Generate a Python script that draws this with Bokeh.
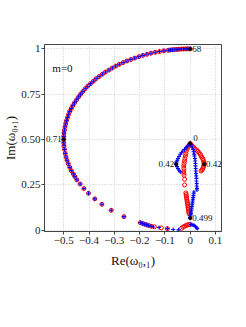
from bokeh.plotting import figure
from bokeh.models import Range1d, FixedTicker, Label
from bokeh.embed import file_html
from bokeh.resources import INLINE

# ---------------- data ----------------
# outer semicircle branch (shared by both series)
arc_x = [0.000, -0.009, -0.017, -0.026, -0.035, -0.044, -0.052, -0.061, -0.070, -0.078,
         -0.087, -0.104, -0.121, -0.138, -0.155, -0.171, -0.187, -0.203, -0.219, -0.235,
         -0.250, -0.265, -0.280, -0.294, -0.308, -0.321, -0.335, -0.347, -0.360, -0.372,
         -0.383, -0.394, -0.405, -0.415, -0.424, -0.433, -0.441, -0.449, -0.457, -0.464,
         -0.470, -0.476, -0.481, -0.485, -0.489, -0.492, -0.495, -0.497, -0.499, -0.500, -0.500]
arc_y = [1.000, 1.000, 1.000, 0.999, 0.999, 0.998, 0.997, 0.996, 0.995, 0.994,
         0.992, 0.989, 0.985, 0.981, 0.976, 0.970, 0.964, 0.957, 0.949, 0.941,
         0.933, 0.924, 0.915, 0.905, 0.894, 0.883, 0.872, 0.860, 0.847, 0.835,
         0.821, 0.808, 0.794, 0.780, 0.765, 0.750, 0.735, 0.719, 0.703, 0.687,
         0.671, 0.655, 0.638, 0.621, 0.604, 0.587, 0.570, 0.552, 0.535, 0.517, 0.500]
low_x = [-0.500, -0.499, -0.497, -0.494, -0.491, -0.487, -0.482, -0.476, -0.470, -0.462,
         -0.456, -0.448, -0.435, -0.420, -0.402, -0.377, -0.349, -0.312, -0.262]
low_y = [0.482, 0.465, 0.445, 0.423, 0.403, 0.385, 0.366, 0.346, 0.328, 0.310,
         0.295, 0.277, 0.254, 0.229, 0.203, 0.172, 0.142, 0.109, 0.074]

red_tail_x = [-0.197, -0.188, -0.180, -0.172, -0.164, -0.154, -0.141, -0.114, -0.090]
red_tail_y = [0.041, 0.036, 0.032, 0.029, 0.025, 0.021, 0.018, 0.012, 0.008]
blue_tail_x = [-0.197, -0.188, -0.180, -0.172, -0.164, -0.154, -0.145, -0.123, -0.090, -0.067, -0.046]
blue_tail_y = [0.041, 0.036, 0.032, 0.029, 0.025, 0.021, 0.017, 0.014, 0.008, 0.003, 0.001]

# inner structure, red (circles)
red_in_x = [0.000, 0.005, 0.010, 0.015, 0.020, 0.025, 0.030, 0.035, 0.040, 0.043,
            0.046, 0.050, 0.052, 0.054, 0.055, 0.055, 0.053, 0.050, 0.047, 0.043,
            -0.004, -0.008, -0.012, -0.015, -0.017, -0.019, -0.021, -0.022, -0.024, -0.025,
            -0.025, -0.025, -0.025, -0.024, -0.022, -0.022,
            -0.017, -0.016, -0.015, -0.014, -0.013, -0.012, -0.011, -0.010, -0.009, -0.008,
            -0.007, -0.006, -0.005, -0.004,
            -0.034, -0.028, -0.022, -0.016, -0.011, -0.006, -0.002]
red_in_y = [0.478, 0.470, 0.462, 0.455, 0.447, 0.441, 0.436, 0.427, 0.418, 0.410,
            0.402, 0.394, 0.385, 0.376, 0.368, 0.360, 0.350, 0.339, 0.332, 0.326,
            0.470, 0.460, 0.448, 0.436, 0.422, 0.409, 0.395, 0.381, 0.367, 0.354,
            0.340, 0.326, 0.314, 0.302, 0.280, 0.249,
            0.205, 0.196, 0.187, 0.178, 0.169, 0.160, 0.151, 0.142, 0.133, 0.124,
            0.115, 0.106, 0.098, 0.090,
            0.010, 0.016, 0.021, 0.025, 0.028, 0.030, 0.031]

# inner structure, blue (crosses)
blue_in_x = [0.000, -0.005, -0.010, -0.016, -0.022, -0.029, -0.034, -0.039, -0.044, -0.048,
             -0.051, -0.054, -0.055, -0.055, -0.052, -0.048, -0.044, -0.039,
             0.004, 0.008, 0.012, 0.014, 0.016, 0.017, 0.019, 0.020, 0.021, 0.021,
             0.022, 0.022, 0.023, 0.024, 0.025, 0.025, 0.026, 0.026, 0.027, 0.027,
             0.015, 0.014, 0.013, 0.012, 0.011, 0.010, 0.009, 0.008, 0.007, 0.006,
             0.005, 0.004, 0.003, 0.002, 0.001, 0.000,
             0.002, 0.006, 0.011, 0.016, 0.021, 0.025, 0.028]
blue_in_y = [0.478, 0.470, 0.462, 0.455, 0.445, 0.436, 0.427, 0.418, 0.406, 0.394,
             0.385, 0.376, 0.368, 0.360, 0.350, 0.339, 0.330, 0.321,
             0.470, 0.458, 0.445, 0.432, 0.419, 0.409, 0.395, 0.381, 0.367, 0.354,
             0.340, 0.326, 0.312, 0.299, 0.285, 0.271, 0.257, 0.243, 0.230, 0.221,
             0.210, 0.200, 0.190, 0.180, 0.170, 0.160, 0.150, 0.140, 0.130, 0.120,
             0.110, 0.100, 0.092, 0.084, 0.076, 0.069,
             0.031, 0.030, 0.028, 0.025, 0.020, 0.014, 0.008]

# marked points with their parameter labels
mark_x = [0.0, -0.5, 0.0, -0.055, 0.055, 0.0]
mark_y = [1.0, 0.5, 0.478, 0.363, 0.363, 0.065]
mark_text = ["68", "0.71", "0", "0.42", "0.42", "0.499"]

x_ticks = [-0.5, -0.4, -0.3, -0.2, -0.1, 0.0, 0.1]
x_tick_labels = ["\u22120.5", "\u22120.4", "\u22120.3", "\u22120.2", "\u22120.1", "0", "0.1"]
y_ticks = [0.0, 0.25, 0.5, 0.75, 1.0]
y_tick_labels = ["0", "0.25", "0.50", "0.75", "1"]

# ---------------- figure ----------------
FONT = "Liberation Serif"
p = figure(width=230, height=300, output_backend="svg", toolbar_location=None,
           x_range=Range1d(-0.576, 0.124), y_range=Range1d(-0.008, 1.024),
           min_border_left=42, min_border_right=9, min_border_top=44, min_border_bottom=69)
p.background_fill_color = "white"
p.border_fill_color = "white"
p.outline_line_color = "#444444"
p.outline_line_width = 1

for ax in (p.xaxis[0], p.yaxis[0]):
    ax.axis_line_color = "#444444"
    ax.major_tick_line_color = "#444444"
    ax.major_tick_out = 3
    ax.major_tick_in = 0
    ax.minor_tick_line_color = None
    ax.major_label_text_font = FONT
    ax.major_label_text_font_size = "11px"
    ax.major_label_text_color = "#222222"
    ax.axis_label_text_font = FONT
    ax.axis_label_text_font_size = "13px"
    ax.axis_label_text_font_style = "normal"
    ax.axis_label_text_color = "#111111"

p.xaxis.ticker = FixedTicker(ticks=x_ticks)
p.xaxis.major_label_overrides = {t: l for t, l in zip(x_ticks, x_tick_labels)}
p.yaxis.ticker = FixedTicker(ticks=y_ticks)
p.yaxis.major_label_overrides = {t: l for t, l in zip(y_ticks, y_tick_labels)}
p.xaxis.major_label_standoff = 2
p.yaxis.major_label_standoff = 1
p.xaxis.axis_label = "Re(\u03c9\u2080,\u2081)"
p.xaxis.axis_label_standoff = 6
p.yaxis.axis_label = "Im(\u03c9\u2080,\u2081)"
p.yaxis.axis_label_standoff = 0

p.xgrid.ticker = FixedTicker(ticks=x_ticks)
p.ygrid.ticker = FixedTicker(ticks=y_ticks)
for g in (p.xgrid[0], p.ygrid[0]):
    g.grid_line_color = "#c8c8c8"
    g.grid_line_dash = "1 2"
    g.grid_line_width = 1

RED = "#ff0000"
BLUE = "#0000ff"

# red circles
p.scatter(arc_x + low_x + red_tail_x, arc_y + low_y + red_tail_y, marker="circle",
          size=4, fill_color=None, line_color=RED, line_width=1)
p.scatter(red_in_x, red_in_y, marker="circle", size=4, fill_color=None,
          line_color=RED, line_width=1)
# blue crosses
p.scatter(arc_x + low_x + blue_tail_x, arc_y + low_y + blue_tail_y, marker="cross",
          size=4, line_color=BLUE, line_width=1.1)
p.scatter(blue_in_x, blue_in_y, marker="cross", size=4, line_color=BLUE, line_width=1.1)

# marked black points
p.scatter(mark_x, mark_y, marker="circle", size=3, fill_color="black", line_color="black")

offsets = [(2, 0, "left", "middle"), (-2, 0, "right", "middle"), (3, 2, "left", "bottom"),
           (-2, 0, "right", "middle"), (2, 0, "left", "middle"), (2, 0, "left", "middle")]
for mx, my, mt, (dx, dy, al, bl) in zip(mark_x, mark_y, mark_text, offsets):
    p.add_layout(Label(x=mx, y=my, text=mt, x_offset=dx, y_offset=dy,
                       text_align=al, text_baseline=bl, text_font=FONT,
                       text_font_size="9px", text_color="#111111"))

p.add_layout(Label(x=-0.545, y=0.895, text="m=0", text_align="left", text_baseline="middle",
                   text_font=FONT, text_font_size="11px", text_color="#111111"))

open("out.html", "w").write(file_html(p, INLINE))
